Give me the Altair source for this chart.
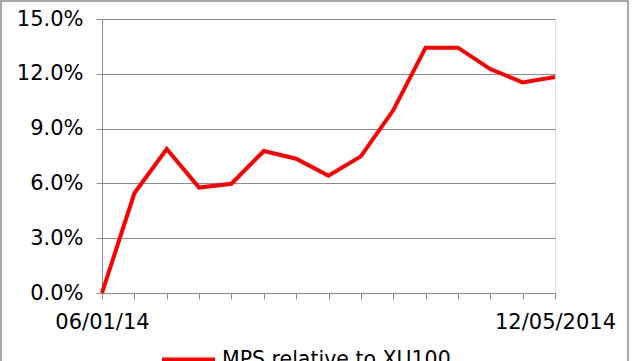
import altair as alt
import pandas as pd

# data
idx = list(range(15))
values = [0.0, 0.0546, 0.0788, 0.0577, 0.0598, 0.0777, 0.0735, 0.0642,
          0.0748, 0.1000, 0.1343, 0.1343, 0.1226, 0.1153, 0.1182]
series_name = "MPS relative to XU100"
x_tick_labels = {0: "06/01/14", 14: "12/05/2014"}
y_ticks = [0.0, 0.03, 0.06, 0.09, 0.12, 0.15]

df = pd.DataFrame({"i": idx, "v": values, "series": [series_name] * len(idx)})

label_expr = " : ".join(
    [f"datum.value == {k} ? '{v}'" for k, v in x_tick_labels.items()] + ["''"]
)

FONT = "DejaVu Sans"

line = alt.Chart(df).mark_line(strokeWidth=4, strokeJoin="miter").encode(
    x=alt.X("i:Q", scale=alt.Scale(domain=[0, 14], nice=False, zero=False),
            axis=alt.Axis(values=idx, labelExpr=label_expr, title=None, grid=False,
                          domainColor="#8c8c8c", tickColor="#8c8c8c", tickSize=6,
                          labelFont=FONT, labelFontSize=21, labelColor="black",
                          labelPadding=12, labelFlush=False, labelOverlap=False)),
    y=alt.Y("v:Q", scale=alt.Scale(domain=[0, 0.15], nice=False),
            axis=alt.Axis(values=y_ticks, format=".1%", title=None, grid=True,
                          gridColor="#8c8c8c", domainColor="#8c8c8c", tickColor="#8c8c8c",
                          tickSize=6, labelFont=FONT, labelFontSize=21, labelColor="black",
                          labelPadding=13)),
    color=alt.Color("series:N", scale=alt.Scale(range=["#ff0000"]),
                    legend=alt.Legend(title=None, orient="none", legendX=58, legendY=312,
                                      symbolType="stroke", symbolSize=2809,
                                      symbolStrokeWidth=4, labelFont=FONT,
                                      labelFontSize=20.5, labelColor="black",
                                      labelOffset=5, labelLimit=0, padding=0)),
)

border = alt.Chart(pd.DataFrame({"a": [0]})).mark_rect(
    fill=None, stroke="#8c8c8c", strokeWidth=1.5
).encode(x=alt.value(-101), x2=alt.value(526), y=alt.value(-18), y2=alt.value(400))

chart = alt.layer(border, line).properties(
    width=453, height=274,
    padding={"left": 102, "top": 19, "right": 80, "bottom": 68},
    autosize=alt.AutoSizeParams(type="none"),
).configure_view(stroke=None).configure(background="white")

chart.save("out.html", embed_options={"renderer": "svg", "actions": False})
